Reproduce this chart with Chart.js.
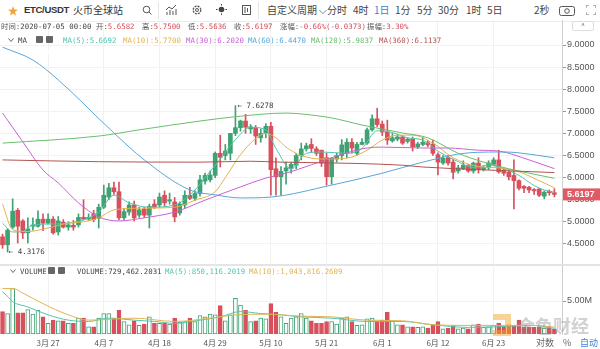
<!DOCTYPE html>
<html>
<head>
<meta charset="utf-8">
<script src="https://cdn.jsdelivr.net/npm/chart.js@4.4.1/dist/chart.umd.min.js"></script>
<style>
body { margin: 0; background: #fff; }
#wrap { position: relative; width: 600px; height: 349px; overflow: hidden; background: #fff;
        font-family: "Noto Sans CJK SC", "Noto Sans", sans-serif; color: #444; }
.t { position: absolute; white-space: pre; line-height: 1; }
.tb { font-size: 10px; top: 5px; color: #444; }
.mono { font-family: "DejaVu Sans Mono", "Noto Sans CJK SC", monospace; font-size: 7.4px; }
.lbl { color: #555; }
canvas { position: absolute; left: 0; }
.sep { position: absolute; background: #e4e4e4; }
.ib { position: absolute; width: 7px; height: 7px; background: #666; border-radius: 1px; }
</style>
</head>
<body>
<div id="wrap">
  <!-- barra superior -->
  <svg class="t" style="left:8px;top:6px" width="10" height="10" viewBox="0 0 10 10"><polygon points="5,0 6.2,3.6 10,3.7 7,6 8.1,9.8 5,7.6 1.9,9.8 3,6 0,3.7 3.8,3.6" fill="#f0a43a"/></svg>
  <div class="t" style="left:24px;top:5px;font-family:'Liberation Sans';font-size:9.5px;font-weight:bold;letter-spacing:-0.3px;color:#333">ETC/USDT</div>
  <div class="t" style="left:73px;top:5px;font-size:10px;color:#333">火币全球站</div>
  <svg class="t" style="left:142px;top:5px" width="10" height="10"><circle cx="4.5" cy="4.5" r="3.3" fill="none" stroke="#555" stroke-width="1"/><line x1="7" y1="7" x2="9.5" y2="9.5" stroke="#555"/></svg>
  <div class="sep" style="left:158px;top:2px;width:1px;height:17px"></div>
  <svg class="t" style="left:166px;top:4px" width="11" height="11"><polyline points="0,6 3,3 6,5 10,1" fill="none" stroke="#555"/><line x1="1" y1="11" x2="1" y2="8" stroke="#555"/><line x1="4" y1="11" x2="4" y2="6" stroke="#555"/><line x1="7" y1="11" x2="7" y2="7" stroke="#555"/><line x1="10" y1="11" x2="10" y2="5" stroke="#555"/></svg>
  <svg class="t" style="left:192px;top:5px" width="10" height="10"><circle cx="5" cy="5" r="3.8" fill="none" stroke="#555" stroke-width="1.3" stroke-dasharray="2 1"/><circle cx="5" cy="5" r="1.5" fill="none" stroke="#555"/></svg>
  <svg class="t" style="left:216px;top:4px" width="11" height="11"><circle cx="5.5" cy="5.5" r="2.8" fill="#444"/><g stroke="#444"><line x1="5.5" y1="0" x2="5.5" y2="1.5"/><line x1="5.5" y1="9.5" x2="5.5" y2="11"/><line x1="0" y1="5.5" x2="1.5" y2="5.5"/><line x1="9.5" y1="5.5" x2="11" y2="5.5"/></g></svg>
  <svg class="t" style="left:242px;top:5px" width="9" height="10"><rect x="0.5" y="0.5" width="8" height="9" fill="none" stroke="#555"/><line x1="3" y1="2" x2="3" y2="8" stroke="#555"/><line x1="5.5" y1="3" x2="5.5" y2="7" stroke="#555"/></svg>
  <div class="sep" style="left:258px;top:2px;width:1px;height:17px"></div>
  <div class="t tb" style="left:267px">自定义周期 ⌵</div>
  <div class="t tb" style="left:327px">分时</div>
  <div class="t tb" style="left:353px">4时</div>
  <div class="t tb" style="left:374px;color:#3a7fd5">1日</div>
  <div class="t tb" style="left:395px">1分</div>
  <div class="t tb" style="left:417px">5分</div>
  <div class="t tb" style="left:438px">30分</div>
  <div class="t tb" style="left:466px">1时</div>
  <div class="t tb" style="left:487px">5日</div>
  <div class="t tb" style="left:534px">2秒</div>
  <svg class="t" style="left:559px;top:4px" width="16" height="12"><rect x="0.5" y="2.5" width="15" height="9" rx="2" fill="none" stroke="#555"/><circle cx="8" cy="7" r="2.3" fill="none" stroke="#555"/></svg>
  <svg class="t" style="left:586px;top:5px" width="10" height="10"><g fill="none" stroke="#777"><polyline points="0,3 0,0 3,0"/><polyline points="7,0 10,0 10,3"/><polyline points="0,7 0,10 3,10"/><polyline points="7,10 10,10 10,7"/></g></svg>
  <div class="sep" style="left:0;top:21px;width:600px;height:1px;background:#ececec"></div>

  <canvas id="main" width="600" height="245" style="top:20px"></canvas>
  <div class="sep" style="left:0;top:264px;width:600px;height:2px"></div>
  <canvas id="vol" width="600" height="84" style="top:265px"></canvas>

  <!-- legendas -->
  <div id="ohlc"></div>
  <div id="maRow"></div>
  <div id="volRow"></div>
  <div class="t" style="left:572px;top:21px;width:20px;height:8px;border:1px solid #ddd;border-radius:2px;background:#fff;font-size:7px;text-align:center;color:#666">^</div>

  <div class="t" style="left:536px;top:338px;font-size:9px;color:#666">对数</div>
  <div class="t" style="left:563px;top:338px;font-size:9px;color:#666">%</div>
  <div class="t" style="left:580px;top:338px;font-size:9px;color:#3a7fd5">自动</div>
  <div class="t" style="left:517px;top:316px;font-size:18px;color:rgba(140,140,140,0.4);font-weight:bold">金色财经</div>
  <svg class="t" style="left:491px;top:312px" width="22" height="26"><path d="M2 2 H20 V24 H2 V18 H14 V8 H2 Z" fill="rgba(240,170,40,0.5)"/></svg>
</div>

<script>
// Categorias: um candle por dia, de 18/03 a 05/07 (+1 dia vazio para a margem direita)
const datas = [];
for (let i = 0; i < 111; i++) {
    const d = new Date(2020, 2, 18 + i);
    datas.push((d.getMonth() + 1) + '-' + d.getDate());
}
const datasEixo = ['3-27', '4-7', '4-18', '4-29', '5-10', '5-21', '6-1', '6-12', '6-23'];
const ticksPreco = [4.5, 5.0, 5.5, 6.0, 6.5, 7.0, 7.5, 8.0, 8.5, 9.0];
const ticksVolume = [5];

// OHLC diário ETC/USDT
const abertura = [
    4.66, 4.48, 4.88, 5.26, 5.02, 4.75, 4.90, 4.90, 5.06, 4.97,
    5.06, 4.77, 4.99, 4.88, 4.92, 4.93, 5.10, 5.06, 5.18, 5.08,
    5.33, 5.56, 5.77, 5.68, 5.09, 5.22, 5.38, 5.15, 5.29, 5.15,
    5.40, 5.38, 5.60, 5.47, 5.45, 5.20, 5.38, 5.60, 5.53, 5.64,
    5.92, 5.95, 6.05, 6.55, 6.50, 6.55, 7.00, 7.13, 7.28, 7.10,
    7.13, 6.90, 7.00, 7.16, 6.20, 6.02, 6.15, 6.20, 6.28, 6.50,
    6.65, 6.75, 6.65, 6.62, 6.45, 6.02, 6.42, 6.50, 6.55, 6.80,
    6.55, 6.75, 6.78, 7.08, 7.33, 7.21, 7.03, 6.83, 6.87, 6.92,
    6.82, 6.88, 6.70, 6.75, 6.79, 6.76, 6.52, 6.33, 6.45, 6.35,
    6.15, 6.20, 6.27, 6.15, 6.33, 6.18, 6.22, 6.30, 6.40, 6.17,
    6.12, 6.05, 5.93, 5.80, 5.78, 5.73, 5.74, 5.58, 5.69, 5.6582
];
const maxima = [
    4.72, 4.85, 5.52, 5.30, 5.05, 5.09, 5.09, 5.25, 5.18, 5.18,
    5.12, 5.12, 5.05, 5.00, 5.03, 5.18, 5.50, 5.18, 5.26, 5.40,
    5.83, 5.87, 5.90, 5.90, 5.30, 5.45, 5.47, 5.33, 5.33, 5.40,
    5.50, 5.65, 5.70, 5.65, 5.55, 5.45, 5.70, 5.78, 5.70, 6.05,
    6.10, 6.15, 6.58, 6.96, 6.75, 7.00, 7.6278, 7.30, 7.43, 7.20,
    7.18, 7.10, 7.22, 7.25, 6.45, 6.25, 6.35, 6.35, 6.55, 6.78,
    6.78, 6.88, 6.70, 6.62, 6.55, 6.45, 6.55, 6.86, 6.88, 6.88,
    6.80, 6.88, 7.12, 7.42, 7.57, 7.28, 7.30, 7.00, 6.98, 6.95,
    6.90, 6.92, 6.80, 6.92, 6.84, 6.85, 6.56, 6.50, 6.50, 6.42,
    6.28, 6.38, 6.30, 6.35, 6.45, 6.26, 6.38, 6.45, 6.62, 6.20,
    6.18, 6.40, 5.95, 5.82, 5.80, 5.75, 5.76, 5.70, 5.72, 5.75
];
const minimas = [
    4.40, 4.3176, 4.85, 4.52, 4.62, 4.52, 4.81, 4.88, 4.80, 4.95,
    4.72, 4.70, 4.86, 4.81, 4.81, 4.88, 5.05, 5.03, 5.00, 4.86,
    5.30, 5.50, 5.62, 5.05, 5.05, 5.15, 5.02, 5.10, 5.10, 4.86,
    5.30, 5.33, 5.35, 5.40, 5.00, 5.15, 5.30, 5.50, 5.48, 5.58,
    5.85, 5.90, 6.00, 6.24, 6.40, 6.40, 6.95, 7.05, 7.00, 7.00,
    6.75, 6.80, 6.90, 5.60, 5.60, 5.60, 5.85, 6.10, 6.20, 6.40,
    6.60, 6.58, 6.50, 6.25, 5.83, 5.85, 6.35, 6.40, 6.45, 6.55,
    6.50, 6.74, 6.75, 7.05, 7.15, 6.95, 6.75, 6.80, 6.83, 6.75,
    6.78, 6.60, 6.66, 6.72, 6.70, 6.50, 6.06, 6.30, 6.28, 5.97,
    6.10, 6.18, 6.12, 6.10, 6.10, 6.15, 6.18, 6.28, 6.10, 6.05,
    5.95, 5.29, 5.72, 5.66, 5.66, 5.62, 5.57, 5.52, 5.60, 5.5636
];
const fechamento = [
    4.48, 4.81, 5.24, 4.90, 4.75, 4.84, 4.93, 5.06, 4.97, 5.06,
    4.75, 5.02, 4.88, 4.93, 4.88, 5.10, 5.06, 5.10, 5.05, 5.33,
    5.60, 5.77, 5.68, 5.09, 5.23, 5.38, 5.09, 5.27, 5.15, 5.35,
    5.33, 5.56, 5.43, 5.50, 5.11, 5.40, 5.60, 5.53, 5.64, 5.95,
    6.05, 6.06, 6.55, 6.46, 6.60, 7.00, 7.13, 7.28, 7.14, 7.15,
    6.94, 7.00, 7.16, 6.18, 6.02, 6.14, 6.22, 6.30, 6.50, 6.65,
    6.72, 6.66, 6.55, 6.33, 6.02, 6.44, 6.50, 6.74, 6.80, 6.67,
    6.75, 6.80, 7.08, 7.33, 7.20, 7.03, 6.85, 6.90, 6.92, 6.78,
    6.87, 6.70, 6.76, 6.80, 6.74, 6.55, 6.35, 6.44, 6.33, 6.12,
    6.22, 6.28, 6.15, 6.33, 6.18, 6.23, 6.33, 6.40, 6.13, 6.10,
    6.02, 5.93, 5.76, 5.76, 5.72, 5.70, 5.60, 5.67, 5.657, 5.6197
];
// Volume em milhões
const volume = [
    3.4, 3.1, 6.9, 3.2, 3.2, 3.7, 3.0, 3.6, 2.6, 1.6,
    2.1, 2.0, 2.0, 1.6, 1.6, 2.4, 2.4, 1.1, 1.1, 2.4,
    3.1, 3.1, 2.4, 3.6, 1.9, 1.4, 2.0, 1.3, 1.5, 2.6,
    1.6, 1.6, 1.7, 1.5, 2.4, 1.8, 1.9, 2.4, 1.9, 2.8,
    2.6, 3.0, 2.9, 4.3, 2.0, 2.9, 5.4, 4.4, 3.6, 1.9,
    2.0, 2.4, 2.3, 4.6, 3.3, 2.6, 1.6, 2.4, 2.6, 3.1,
    2.4, 2.0, 1.6, 1.6, 1.9, 1.9, 1.5, 2.4, 2.6, 1.9,
    1.3, 1.4, 2.3, 2.4, 1.9, 2.1, 3.3, 2.0, 1.4, 1.4,
    1.1, 1.1, 1.0, 1.1, 0.9, 1.4, 1.9, 0.8, 0.9, 1.3,
    0.8, 0.9, 0.8, 1.4, 1.5, 1.0, 1.1, 1.3, 1.6, 1.1,
    1.4, 1.3, 2.1, 1.1, 1.1, 1.0, 1.1, 0.9, 0.9, 0.73
];

// Médias móveis: [índice do dia, valor]
const ma5 = [[0,4.97],[2,4.77],[4,4.78],[6,4.93],[10,4.95],[13,4.97],[16,5.04],[19,5.22],[22,5.6],[25,5.43],[29,5.33],[34,5.38],[38,5.72],[40,6.0],[43,6.42],[46,6.86],[49,7.14],[52,7.08],[54,6.66],[57,6.2],[60,6.55],[63,6.58],[68,6.55],[71,6.66],[74,7.06],[77,7.02],[80,6.9],[83,6.85],[86,6.6],[90,6.36],[93,6.23],[96,6.28],[99,6.2],[102,6.05],[105,5.82],[107,5.72],[109,5.6692]];
const ma10 = [[0,5.4],[2,4.82],[5,4.78],[9,4.86],[13,4.97],[16,5.0],[19,5.09],[22,5.27],[28,5.31],[34,5.33],[38,5.49],[42,5.68],[44,6.0],[47,6.52],[50,6.88],[52,7.0],[54,6.9],[56,6.69],[59,6.5],[63,6.42],[68,6.44],[72,6.62],[75,6.85],[78,6.96],[81,6.96],[85,6.78],[89,6.45],[94,6.25],[98,6.22],[102,6.13],[106,5.93],[109,5.77]];
const ma30 = [[0,7.46],[4,6.81],[8,6.17],[11,5.88],[15,5.43],[19,5.11],[23,5.02],[28,5.09],[34,5.22],[40,5.49],[47,5.79],[52,5.99],[56,6.1],[61,6.29],[68,6.56],[72,6.67],[75,6.69],[83,6.67],[88,6.67],[94,6.62],[98,6.6],[104,6.4],[109,6.202]];
const ma60 = [[0,8.95],[6,8.66],[11,8.21],[22,7.01],[28,6.4],[37,5.72],[42,5.61],[47,5.54],[53,5.56],[65,5.83],[75,6.1],[83,6.35],[92,6.56],[99,6.58],[102,6.56],[109,6.447]];
const ma120 = [[0,6.78],[19,6.94],[27,7.08],[39,7.28],[47,7.39],[56,7.46],[59,7.44],[65,7.35],[71,7.19],[79,7.01],[84,6.9],[90,6.55],[95,6.35],[100,6.2],[104,6.1],[109,5.9837]];
const ma360 = [[0,6.40],[19,6.36],[39,6.35],[49,6.37],[55,6.35],[70,6.32],[79,6.28],[83,6.24],[96,6.17],[109,6.1137]];
const volMa5 = [[0,6.4],[1,5.7],[2,4.9],[5,4.1],[9,2.9],[13,2.1],[17,1.9],[21,2.4],[26,2.1],[30,1.9],[34,1.6],[39,2.1],[43,2.6],[47,3.4],[51,3.1],[55,2.9],[59,2.6],[65,2.4],[72,1.9],[79,1.9],[85,1.4],[92,1.0],[98,1.1],[105,1.3],[109,0.85]];
const volMa10 = [[0,6.9],[2,6.9],[4,6.2],[8,4.6],[13,2.9],[17,2.1],[26,2.4],[34,1.9],[41,2.4],[46,2.9],[52,3.0],[59,2.7],[65,2.6],[72,2.1],[79,2.0],[85,1.4],[92,1.3],[98,1.3],[105,1.3],[109,1.04]];

const VERDE = '#3fa272';
const VERMELHO = '#d8505b';
const COR = { ma5: '#55c3b0', ma10: '#e2b34f', ma30: '#c862d2', ma60: '#58a6d8', ma120: '#68bf6c', ma360: '#b4534e' };

const ultimo = fechamento.length - 1;
const subiu = fechamento.map((c, i) => c >= abertura[i]);
const corCandle = subiu.map(u => u ? VERDE : VERMELHO);

function pontos(lista) {
    return lista.map(([i, v]) => ({ x: datas[i], y: v }));
}
function linha(lista, cor) {
    return { type: 'line', data: pontos(lista), borderColor: cor, borderWidth: 1, pointRadius: 0,
             cubicInterpolationMode: 'monotone', order: 0 };
}
function rotuloData(v) {
    const l = datas[v];
    if (!datasEixo.includes(l)) return '';
    const p = l.split('-');
    return p[0] + '月 ' + p[1];
}
function filtraDatas(s) {
    s.ticks = s.ticks.filter(t => datasEixo.includes(datas[t.value]));
}

// Legendas (texto real)
const sinal = v => (v >= 0 ? '+' : '');
const anterior = fechamento[ultimo - 1];
const variacao = fechamento[ultimo] - anterior;
const amplitude = (maxima[ultimo] - minimas[ultimo]) / anterior * 100;
const itensOhlc = [
    [1, '时间:', '2020-07-05 00:00', '#444'],
    [96, '开:', abertura[ultimo].toFixed(4)],
    [142, '高:', maxima[ultimo].toFixed(4)],
    [188, '低:', minimas[ultimo].toFixed(4)],
    [234, '收:', fechamento[ultimo].toFixed(4)],
    [280, '涨幅:', sinal(variacao) + (variacao / anterior * 100).toFixed(2) + '%(' + variacao.toFixed(4) + ')'],
    [367, '振幅:', amplitude.toFixed(2) + '%']
];
document.getElementById('ohlc').innerHTML = itensOhlc.map(([x, l, v, c]) =>
    `<div class="t mono" style="left:${x}px;top:23px"><span class="lbl">${l}</span><span style="color:${c || '#d2505a'}">${v}</span></div>`).join('');

const icones = (x, y) =>
    `<svg class="t" style="left:${x - 10}px;top:${y + 1}px" width="6" height="5"><polyline points="0.5,0.5 3,3.5 5.5,0.5" fill="none" stroke="#666"/></svg>`;
const caixas = (x, y) =>
    `<div class="ib" style="left:${x}px;top:${y}px"><svg width="7" height="7"><circle cx="3.5" cy="3.5" r="1.8" fill="none" stroke="#fff" stroke-width="1.1"/></svg></div>` +
    `<div class="ib" style="left:${x + 10}px;top:${y}px"><svg width="7" height="7"><path d="M1.5 1.5 L5.5 5.5 M5.5 1.5 L1.5 5.5" stroke="#fff" stroke-width="1.1"/></svg></div>`;

const itensMa = [
    [63, 'MA(5):', ma5, COR.ma5], [123, 'MA(10):', ma10, COR.ma10], [186, 'MA(30):', ma30, COR.ma30],
    [248, 'MA(60):', ma60, COR.ma60], [311, 'MA(120):', ma120, COR.ma120], [379, 'MA(360):', ma360, COR.ma360]
];
document.getElementById('maRow').innerHTML = icones(18, 37) +
    `<div class="t mono" style="left:18px;top:37px;color:#444">MA</div>` + caixas(36, 36) +
    itensMa.map(([x, n, l, c]) =>
        `<div class="t mono" style="left:${x}px;top:37px;color:${c}">${n}${l[l.length - 1][1].toFixed(4)}</div>`).join('');

document.getElementById('volRow').innerHTML = icones(20, 268) +
    `<div class="t mono" style="left:20px;top:268px;color:#444">VOLUME</div>` + caixas(48, 267) +
    `<div class="t mono" style="left:77px;top:268px;color:#444">VOLUME:729,462.2031</div>` +
    `<div class="t mono" style="left:165px;top:268px;color:${COR.ma5}">MA(5):850,116.2019</div>` +
    `<div class="t mono" style="left:249px;top:268px;color:${COR.ma10}">MA(10):1,043,816.2609</div>`;

// Marcadores de máxima/mínima e etiqueta do último preço
const marcadores = {
    id: 'marcadores',
    afterDatasetsDraw(chart) {
        const { ctx, scales: { x, y } } = chart;
        const hi = Math.max(...maxima), lo = Math.min(...minimas);
        ctx.save();
        ctx.font = '7.5px "DejaVu Sans Mono"';
        ctx.fillStyle = '#444';
        ctx.textBaseline = 'middle';
        ctx.fillText('← ' + hi.toFixed(4), x.getPixelForValue(maxima.indexOf(hi)) + 2, y.getPixelForValue(hi));
        ctx.fillText('← ' + lo.toFixed(4), x.getPixelForValue(minimas.indexOf(lo)) + 1, y.getPixelForValue(lo));
        ctx.restore();
    },
    afterDraw(chart) {
        const { ctx, scales: { y } } = chart;
        const yv = y.getPixelForValue(fechamento[ultimo]);
        ctx.save();
        ctx.fillStyle = '#e05a64';
        ctx.fillRect(y.left + 1, yv - 6, y.right - y.left, 12);
        ctx.fillStyle = '#fff';
        ctx.font = 'bold 9px "Liberation Sans"';
        ctx.textBaseline = 'middle';
        ctx.fillText(fechamento[ultimo].toFixed(4), y.left + 5, yv + 0.5);
        ctx.restore();
    }
};

const base = {
    animation: false, responsive: false, devicePixelRatio: 1, events: [],
    layout: { padding: 0 },
    plugins: { legend: { display: false }, tooltip: { enabled: false } }
};

new Chart(document.getElementById('main'), {
    type: 'bar',
    data: {
        labels: datas,
        datasets: [
            { data: minimas.map((l, i) => [l, maxima[i]]), backgroundColor: corCandle, barThickness: 1, grouped: false, order: 2 },
            { data: abertura.map((o, i) => [o, fechamento[i]]), backgroundColor: corCandle, barThickness: 4, minBarLength: 1, grouped: false, order: 1 },
            linha(ma360, COR.ma360), linha(ma120, COR.ma120), linha(ma60, COR.ma60),
            linha(ma30, COR.ma30), linha(ma10, COR.ma10), linha(ma5, COR.ma5)
        ]
    },
    options: {
        ...base,
        scales: {
            x: {
                offset: true,
                grid: { offset: false, drawTicks: false, color: '#f1f1f1' },
                border: { display: false },
                ticks: { display: false, autoSkip: false },
                afterBuildTicks: filtraDatas,
                afterFit: s => { s.height = 0; s.paddingLeft = 0; s.paddingRight = 0; }
            },
            y: {
                position: 'right',
                min: 9 - (265 - 45) / 44.2,
                max: 9 + 25 / 44.2,
                grid: { color: '#f2f2f2', tickLength: 4, tickColor: '#999' },
                border: { color: '#cfcfcf' },
                ticks: { font: { family: 'Liberation Sans', size: 9 }, color: '#555', padding: 1,
                         callback: v => v.toFixed(4) },
                afterBuildTicks: s => { s.ticks = ticksPreco.map(v => ({ value: v })); },
                afterFit: s => { s.width = 38; s.paddingTop = 0; s.paddingBottom = 0; }
            }
        }
    },
    plugins: [marcadores]
});

new Chart(document.getElementById('vol'), {
    type: 'bar',
    data: {
        labels: datas,
        datasets: [
            { data: volume, backgroundColor: subiu.map(u => u ? '#fff' : VERMELHO), borderColor: corCandle,
              borderWidth: 1, borderSkipped: false, barThickness: 4, order: 1 },
            linha(volMa10, COR.ma10), linha(volMa5, COR.ma5)
        ]
    },
    options: {
        ...base,
        scales: {
            x: {
                offset: true,
                grid: { offset: false, drawTicks: false, color: '#f1f1f1' },
                border: { display: false },
                ticks: { autoSkip: false, maxRotation: 0, padding: 4, color: '#555',
                         font: { family: 'Noto Sans CJK SC', size: 8 }, callback: rotuloData },
                afterBuildTicks: filtraDatas,
                afterFit: s => { s.height = 15; s.paddingLeft = 0; s.paddingRight = 0; }
            },
            y: {
                position: 'right',
                min: 0,
                max: (334 - 265) / 6.6,
                grid: { color: '#f2f2f2', tickLength: 4, tickColor: '#999' },
                border: { color: '#cfcfcf' },
                ticks: { font: { family: 'Liberation Sans', size: 9 }, color: '#555', padding: 1,
                         callback: v => v.toFixed(2) + 'M' },
                afterBuildTicks: s => { s.ticks = ticksVolume.map(v => ({ value: v })); },
                afterFit: s => { s.width = 38; s.paddingTop = 0; s.paddingBottom = 0; }
            }
        }
    }
});
</script>
</body>
</html>
